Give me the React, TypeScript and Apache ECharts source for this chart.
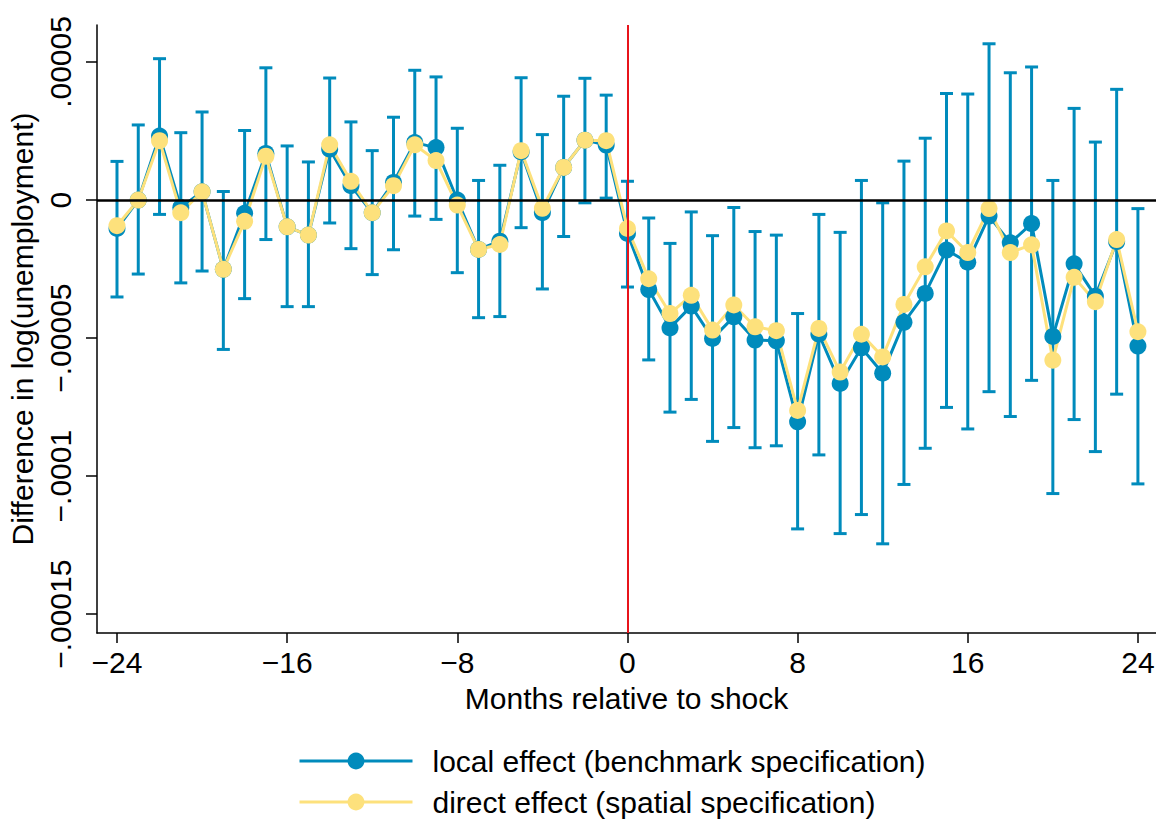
import { useEffect, useRef } from "react";
import * as echarts from "echarts";

// values are in units of 1e-5
const months = [
  -24, -23, -22, -21, -20, -19, -18, -17, -16, -15, -14, -13, -12, -11, -10, -9, -8,
  -7, -6, -5, -4, -3, -2, -1, 0, 1, 2, 3, 4, 5, 6, 7, 8, 9, 10, 11, 12, 13, 14, 15,
  16, 17, 18, 19, 20, 21, 22, 23, 24,
];

const localEffect = [
  -1.03, 0.0, 2.32, -0.27, 0.3, -2.51, -0.48, 1.69, -0.97, -1.27, 1.84, 0.52, -0.46,
  0.64, 2.08, 1.9, 0.0, -1.79, -1.49, 1.74, -0.46, 1.18, 2.17, 1.99, -1.21, -3.24,
  -4.63, -3.84, -5.01, -4.23, -5.07, -5.1, -8.03, -4.86, -6.64, -5.35, -6.27, -4.43,
  -3.38, -1.81, -2.25, -0.58, -1.55, -0.85, -4.94, -2.31, -3.48, -1.51, -5.29,
];

const directEffect = [
  -0.93, 0.0, 2.15, -0.46, 0.3, -2.51, -0.77, 1.59, -0.97, -1.27, 2.0, 0.68, -0.46,
  0.52, 2.0, 1.43, -0.18, -1.79, -1.61, 1.79, -0.3, 1.18, 2.17, 2.15, -1.03, -2.85,
  -4.11, -3.45, -4.71, -3.8, -4.59, -4.73, -7.62, -4.65, -6.23, -4.86, -5.68, -3.78,
  -2.42, -1.12, -1.9, -0.31, -1.9, -1.62, -5.8, -2.8, -3.68, -1.43, -4.77,
];

const ciUpper = [
  1.4, 2.72, 5.12, 2.44, 3.19, 0.31, 2.52, 4.79, 1.96, 1.38, 4.42, 2.83, 1.79, 3.0,
  4.7, 4.46, 2.6, 0.71, 1.26, 4.43, 2.37, 3.76, 4.41, 3.8, 0.68, -0.65, -1.57, -0.43,
  -1.29, -0.27, -1.14, -1.27, -4.11, -0.52, -1.17, 0.71, -0.1, 1.41, 2.24, 3.86, 3.84,
  5.66, 4.61, 4.82, 0.71, 3.32, 2.1, 4.01, -0.31,
];

const ciLower = [
  -3.51, -2.68, -0.52, -3.0, -2.57, -5.41, -3.57, -1.43, -3.86, -3.86, -0.83, -1.76,
  -2.7, -1.8, -0.58, -0.7, -2.63, -4.26, -4.22, -1.0, -3.22, -1.32, -0.1, 0.07, -3.15,
  -5.79, -7.68, -7.22, -8.74, -8.24, -8.97, -8.9, -11.91, -9.23, -12.08, -11.39,
  -12.45, -10.3, -8.99, -7.51, -8.29, -6.94, -7.84, -6.53, -10.63, -7.95, -9.11,
  -7.03, -10.28,
];

const xTicks = [-24, -16, -8, 0, 8, 16, 24];
const yTicks = [-15, -10, -5, 0, 5];
const yTickLabels: Record<string, string> = {
  "-15": "\u2212.00015",
  "-10": "\u2212.0001",
  "-5": "\u2212.00005",
  "0": "0",
  "5": ".00005",
};

const LOCAL_NAME = "local effect (benchmark specification)";
const DIRECT_NAME = "direct effect (spatial specification)";

const BLUE = "#008BBC";
const YELLOW = "#FDE17C";
const FONT = "Liberation Sans";

export default function App() {
  const ref = useRef<HTMLDivElement | null>(null);

  useEffect(() => {
    const el = ref.current;
    if (!el) return undefined;
    const chart = echarts.init(el, undefined, { renderer: "svg" });

    const textStyle = { fontFamily: FONT, fontSize: 30, color: "#000" };
    const legendBase = {
      orient: "vertical",
      left: 293,
      itemWidth: 113,
      itemHeight: 21,
      lineStyle: { width: 3 },
      textStyle: { ...textStyle, padding: [0, 0, 0, 15] },
    };

    chart.setOption({
      animation: false,
      backgroundColor: "#fff",
      textStyle: { fontFamily: FONT },
      grid: { left: 97, right: 0, top: 25, bottom: 188, containLabel: false, outerBoundsMode: "none" },
      xAxis: {
        type: "value",
        min: -24.94,
        max: 24.85,
        name: "Months relative to shock",
        nameLocation: "middle",
        nameGap: 50,
        nameTextStyle: textStyle,
        axisLine: { onZero: false, lineStyle: { color: "#000", width: 1.5 } },
        axisTick: { customValues: xTicks, length: 10, lineStyle: { color: "#000", width: 1.5 } },
        axisLabel: {
          customValues: xTicks,
          margin: 14,
          ...textStyle,
          formatter: (v: number) => (v < 0 ? "\u2212" + Math.abs(v) : String(v)),
        },
        splitLine: { show: false },
      },
      yAxis: {
        type: "value",
        min: -15.68,
        max: 6.34,
        name: "Difference in log(unemployment)",
        nameLocation: "middle",
        nameGap: 52,
        nameTextStyle: textStyle,
        axisLine: { show: true, onZero: false, lineStyle: { color: "#000", width: 1.5 } },
        axisTick: { show: true, customValues: yTicks, length: 11, lineStyle: { color: "#000", width: 1.5 } },
        axisLabel: {
          customValues: yTicks,
          rotate: 90,
          margin: 22,
          ...textStyle,
          formatter: (v: number) => yTickLabels[String(Math.round(v))] ?? "",
        },
        splitLine: { show: false },
      },
      legend: [
        { ...legendBase, top: 741, data: [LOCAL_NAME] },
        { ...legendBase, top: 782, data: [DIRECT_NAME] },
      ],
      series: [
        {
          type: "line",
          name: "refs",
          data: [],
          silent: true,
          markLine: {
            silent: true,
            symbol: "none",
            label: { show: false },
            data: [
              { yAxis: 0, lineStyle: { color: "#000", width: 2.5, type: "solid" } },
              { xAxis: 0, lineStyle: { color: "#E8141B", width: 2, type: "solid" } },
            ],
          },
        },
        {
          type: "custom",
          name: "ci",
          silent: true,
          data: months.map((m, i) => [m, ciLower[i], ciUpper[i]]),
          encode: { x: 0, y: [1, 2] },
          renderItem: (_params: unknown, api: any) => {
            const x = api.value(0);
            const lo = api.coord([x, api.value(1)]);
            const hi = api.coord([x, api.value(2)]);
            const cap = 6.5;
            const style = { stroke: BLUE, lineWidth: 3 };
            return {
              type: "group",
              children: [
                { type: "line", shape: { x1: lo[0], y1: lo[1], x2: hi[0], y2: hi[1] }, style },
                { type: "line", shape: { x1: lo[0] - cap, y1: lo[1], x2: lo[0] + cap, y2: lo[1] }, style },
                { type: "line", shape: { x1: hi[0] - cap, y1: hi[1], x2: hi[0] + cap, y2: hi[1] }, style },
              ],
            };
          },
        },
        {
          type: "line",
          name: LOCAL_NAME,
          data: months.map((m, i) => [m, localEffect[i]]),
          symbol: "circle",
          symbolSize: 17,
          showAllSymbol: true,
          lineStyle: { color: BLUE, width: 3 },
          itemStyle: { color: BLUE },
        },
        {
          type: "line",
          name: DIRECT_NAME,
          data: months.map((m, i) => [m, directEffect[i]]),
          symbol: "circle",
          symbolSize: 17,
          showAllSymbol: true,
          lineStyle: { color: YELLOW, width: 3 },
          itemStyle: { color: YELLOW },
        },
      ],
    });

    return () => {
      chart.dispose();
    };
  }, []);

  return (
    <div
      ref={ref}
      style={{ position: "fixed", left: 0, top: 0, width: 1156, height: 821, background: "#fff" }}
    />
  );
}
